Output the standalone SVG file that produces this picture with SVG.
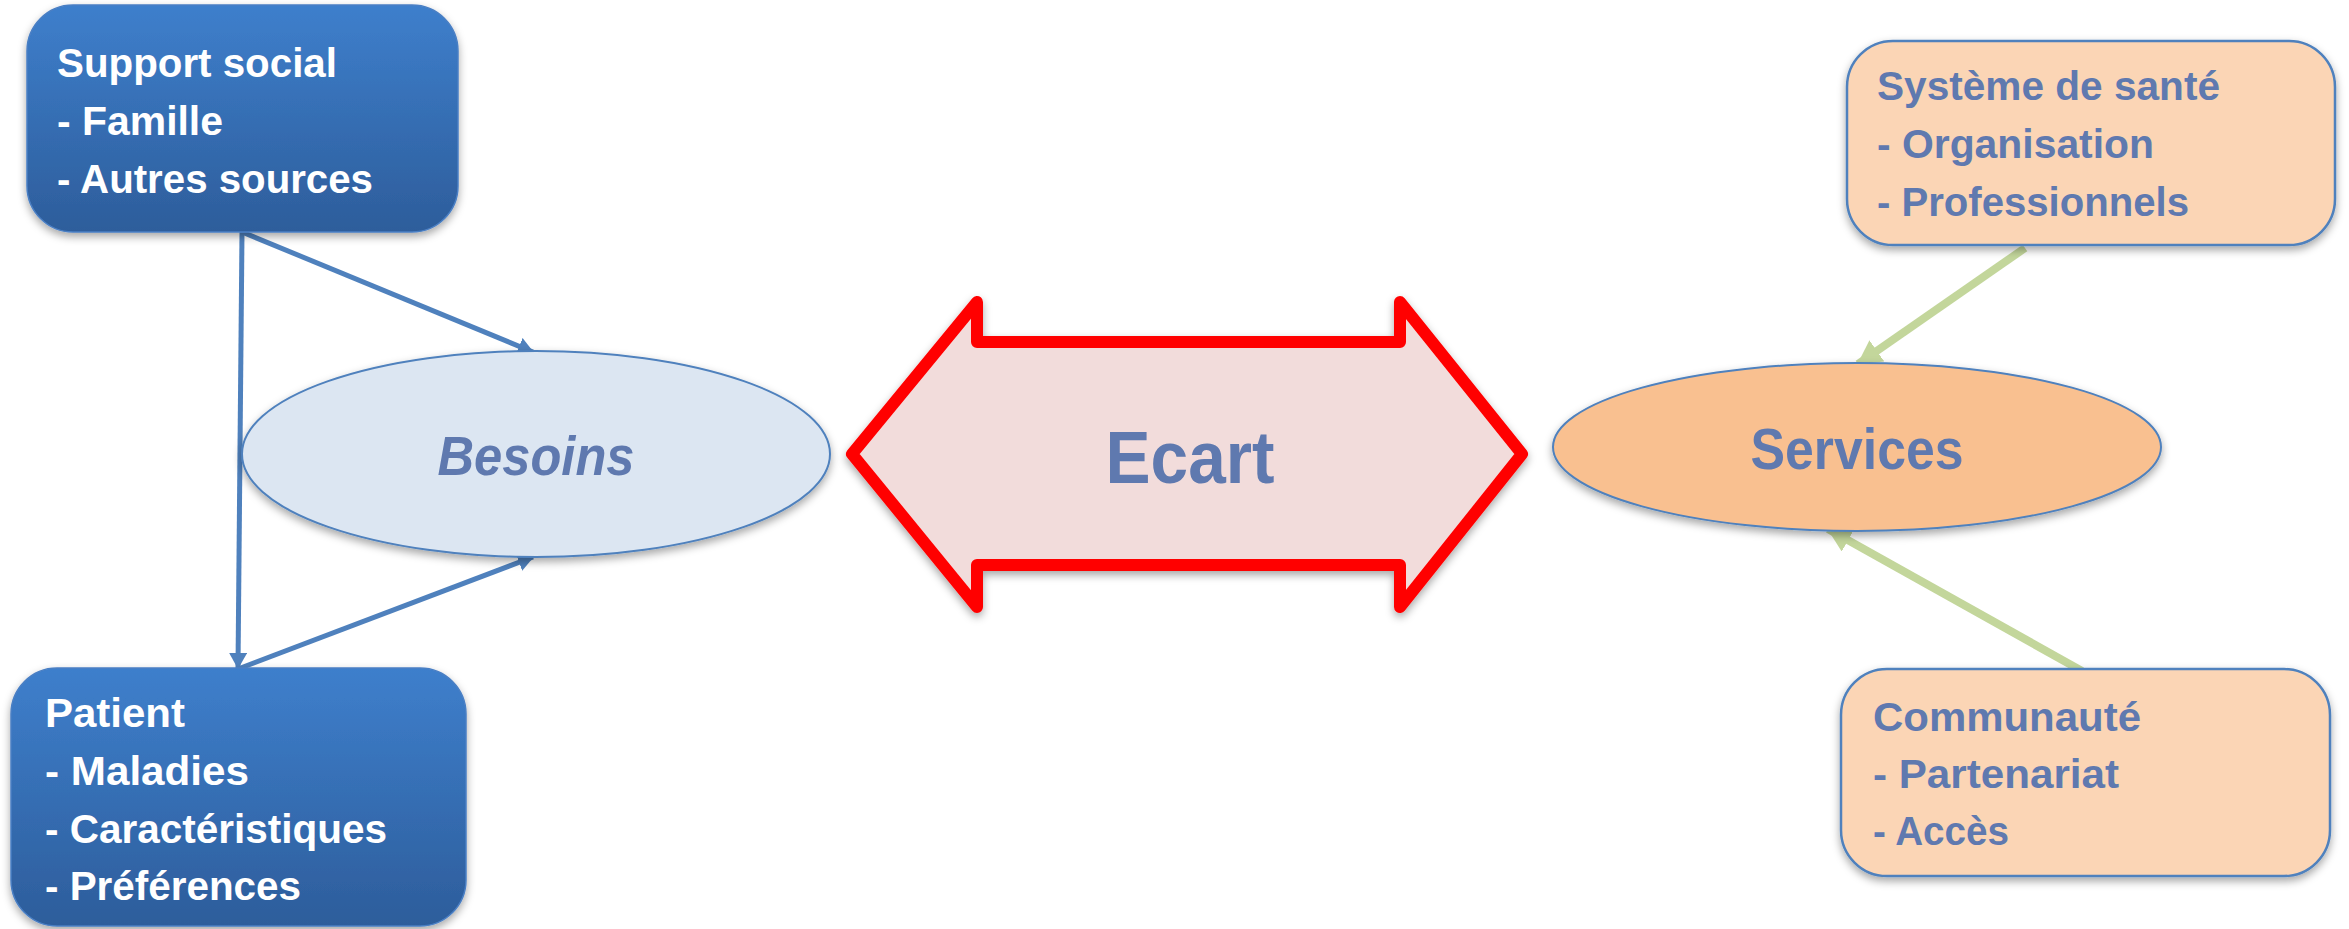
<svg xmlns="http://www.w3.org/2000/svg" width="2349" height="929" viewBox="0 0 2349 929">
  <defs>
    <linearGradient id="blueFill" x1="0" y1="0" x2="0" y2="1">
      <stop offset="0" stop-color="#3e7fcc"/>
      <stop offset="1" stop-color="#2d5d9b"/>
    </linearGradient>
    <filter id="shadow" x="-10%" y="-10%" width="120%" height="130%">
      <feDropShadow dx="0" dy="4" stdDeviation="4" flood-color="#000" flood-opacity="0.35"/>
    </filter>
    <marker id="headBlue" markerWidth="16" markerHeight="18" refX="15" refY="9" orient="auto" markerUnits="userSpaceOnUse">
      <path d="M0,0 L16,9 L0,18 Z" fill="#4f81bd"/>
    </marker>
    <marker id="headGreen" markerWidth="24" markerHeight="26" refX="23" refY="13" orient="auto" markerUnits="userSpaceOnUse">
      <path d="M0,0 L24,13 L0,26 Z" fill="#c3d69b"/>
    </marker>
  </defs>
  <style>
    text { font-family: "Liberation Sans", Arial, sans-serif; font-weight: bold; }
    .white { fill: #ffffff; font-size: 41px; }
    .navy { fill: #5f79af; font-size: 40px; }
    .blueBox { fill: url(#blueFill); stroke: #4a7fc4; stroke-width: 1.5; filter: url(#shadow); }
    .peachBox { fill: #fbd5b5; stroke: #4f81bd; stroke-width: 2.5; filter: url(#shadow); }
    .blueLine { stroke: #4f81bd; stroke-width: 5; fill: none; marker-end: url(#headBlue); }
    .greenLine { stroke: #c3d69b; stroke-width: 8; fill: none; marker-end: url(#headGreen); }
  </style>

  <!-- connectors -->
  <g id="connectors">
    <line class="blueLine" x1="242" y1="232" x2="238" y2="668"/>
    <line class="blueLine" x1="242" y1="232" x2="533" y2="352"/>
    <line class="blueLine" x1="238" y1="669" x2="533" y2="557"/>
    <line class="greenLine" x1="2025" y1="248" x2="1858" y2="364"/>
    <line class="greenLine" x1="2082" y1="671" x2="1828" y2="529"/>
  </g>

  <!-- Support social -->
  <g id="support-social">
    <rect class="blueBox" x="27" y="5" width="431" height="227" rx="46" ry="46"/>
    <text class="white" x="57" y="77" textLength="280" lengthAdjust="spacingAndGlyphs">Support social</text>
    <text class="white" x="57" y="135" textLength="166" lengthAdjust="spacingAndGlyphs">- Famille</text>
    <text class="white" x="57" y="193" textLength="316" lengthAdjust="spacingAndGlyphs">- Autres sources</text>
  </g>

  <!-- Patient -->
  <g id="patient">
    <rect class="blueBox" x="11" y="668" width="455" height="258" rx="46" ry="46"/>
    <text class="white" x="45" y="727" textLength="140" lengthAdjust="spacingAndGlyphs">Patient</text>
    <text class="white" x="45" y="785" textLength="204" lengthAdjust="spacingAndGlyphs">- Maladies</text>
    <text class="white" x="45" y="843" textLength="342" lengthAdjust="spacingAndGlyphs">- Caractéristiques</text>
    <text class="white" x="45" y="900" textLength="256" lengthAdjust="spacingAndGlyphs">- Préférences</text>
  </g>

  <!-- Besoins -->
  <g id="besoins">
    <ellipse cx="536" cy="454" rx="294" ry="103" fill="#dce6f2" stroke="#4f81bd" stroke-width="2" filter="url(#shadow)"/>
    <text x="536" y="475" text-anchor="middle" font-style="italic" font-size="55" fill="#5f79af" textLength="197" lengthAdjust="spacingAndGlyphs">Besoins</text>
  </g>

  <!-- Ecart double arrow -->
  <g id="ecart">
    <polygon points="852,454 977,302 977,342 1400,342 1400,302 1522,454 1400,607 1400,565 977,565 977,607" fill="#f2dcdb" stroke="#ff0000" stroke-width="12" stroke-linejoin="round" filter="url(#shadow)"/>
    <text x="1190" y="483" text-anchor="middle" font-size="75" fill="#5f79af" textLength="169" lengthAdjust="spacingAndGlyphs">Ecart</text>
  </g>

  <!-- Services -->
  <g id="services">
    <ellipse cx="1857" cy="447" rx="304" ry="84" fill="#f9c090" stroke="#4f81bd" stroke-width="2" filter="url(#shadow)"/>
    <text x="1857" y="469" text-anchor="middle" font-size="57" fill="#5f79af" textLength="213" lengthAdjust="spacingAndGlyphs">Services</text>
  </g>

  <!-- Système de santé -->
  <g id="systeme-sante">
    <rect class="peachBox" x="1847" y="41" width="488" height="204" rx="46" ry="46"/>
    <text class="navy" x="1877" y="100" textLength="343" lengthAdjust="spacingAndGlyphs">Système de santé</text>
    <text class="navy" x="1877" y="158" textLength="277" lengthAdjust="spacingAndGlyphs">- Organisation</text>
    <text class="navy" x="1877" y="216" textLength="312" lengthAdjust="spacingAndGlyphs">- Professionnels</text>
  </g>

  <!-- Communauté -->
  <g id="communaute">
    <rect class="peachBox" x="1841" y="669" width="489" height="207" rx="46" ry="46"/>
    <text class="navy" x="1873" y="731" textLength="268" lengthAdjust="spacingAndGlyphs">Communauté</text>
    <text class="navy" x="1873" y="788" textLength="246" lengthAdjust="spacingAndGlyphs">- Partenariat</text>
    <text class="navy" x="1873" y="845" textLength="136" lengthAdjust="spacingAndGlyphs">- Accès</text>
  </g>
</svg>
